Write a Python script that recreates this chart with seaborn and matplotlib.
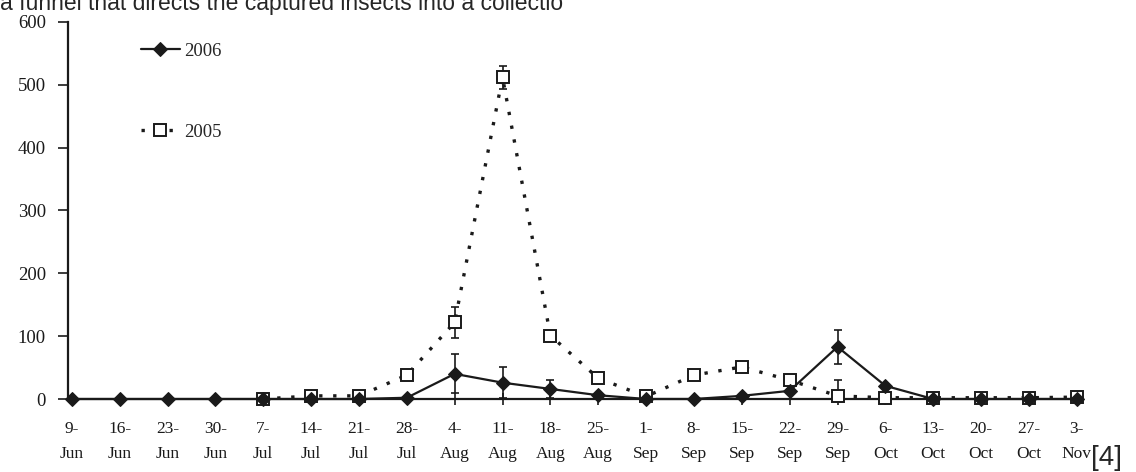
# Trap catches per week, 2005 vs 2006
import numpy as np
import pandas as pd
import matplotlib
matplotlib.use("Agg")
import matplotlib.pyplot as plt
import seaborn as sns

dates = ["9-\nJun", "16-\nJun", "23-\nJun", "30-\nJun", "7-\nJul", "14-\nJul",
         "21-\nJul", "28-\nJul", "4-\nAug", "11-\nAug", "18-\nAug", "25-\nAug",
         "1-\nSep", "8-\nSep", "15-\nSep", "22-\nSep", "29-\nSep", "6-\nOct",
         "13-\nOct", "20-\nOct", "27-\nOct", "3-\nNov"]

catch_2006 = [0, 0, 0, 0, 0, 0, 0, 2, 40, 26, 16, 6, 0, 0, 5, 13, 83, 21, 0, 0, 0, 0]
err_2006 = [0, 0, 0, 0, 0, 0, 0, 0, 31, 25, 14, 2, 0, 0, 2, 3, 27, 0, 0, 0, 0, 0]

catch_2005 = [np.nan, np.nan, np.nan, np.nan, 0, 5, 5, 38, 122, 512, 101, 33,
              4, 38, 51, 30, 5, 2, 2, 2, 2, 3]
err_2005 = [0, 0, 0, 0, 0, 0, 0, 0, 25, 18, 4, 0, 0, 2, 0, 0, 25, 0, 0, 0, 3, 3]

df = pd.DataFrame({"pos": np.arange(len(dates)),
                   "y2006": catch_2006, "y2005": catch_2005})

# error bars never go below zero
lo_2006 = np.minimum(err_2006, df["y2006"].fillna(0))
lo_2005 = np.minimum(err_2005, df["y2005"].fillna(0))

sns.set_style("white")
plt.rcParams["font.family"] = ["Liberation Serif", "DejaVu Serif"]

fig = plt.figure(figsize=(11.36, 4.72), dpi=100)
ax = fig.add_axes([68 / 1136, 1 - 399 / 472, 1015 / 1136, 377 / 472])

ink = "#1a1a1a"

# error bars first so the markers sit on top
ax.errorbar(df["pos"], df["y2006"], yerr=[lo_2006, err_2006], fmt="none",
            ecolor=ink, elinewidth=1.2, capsize=3, capthick=1.2, clip_on=False)
ax.errorbar(df["pos"], df["y2005"], yerr=[lo_2005, err_2005], fmt="none",
            ecolor=ink, elinewidth=1.2, capsize=3, capthick=1.2, clip_on=False)

sns.lineplot(data=df, x="pos", y="y2005", ax=ax, color=ink, linewidth=2.4,
             marker="s", markersize=8, markerfacecolor="white",
             markeredgecolor=ink, markeredgewidth=1.4, label="2005",
             clip_on=False, zorder=3)
ax.lines[-1].set_dashes((1, 3.2))
ax.lines[-1].set_dash_capstyle("butt")

sns.lineplot(data=df, x="pos", y="y2006", ax=ax, color=ink, linewidth=1.6,
             marker="D", markersize=7, markerfacecolor=ink,
             markeredgecolor=ink, label="2006", clip_on=False, zorder=4)

ax.set_xlim(-0.08, 21.13)
ax.set_ylim(0, 600)
ax.set_yticks(range(0, 601, 100))
ax.set_xticks(df["pos"])
ax.set_xticklabels(dates, linespacing=1.75)
ax.set_xlabel("")
ax.set_ylabel("")

for s in ["top", "right"]:
    ax.spines[s].set_visible(False)
for s in ["left", "bottom"]:
    ax.spines[s].set_color(ink)
    ax.spines[s].set_linewidth(1.6)

ax.tick_params(axis="y", direction="out", length=7, width=1.2, pad=9,
               labelsize=13.5, colors=ink, left=True)
ax.tick_params(axis="x", direction="inout", length=8, width=1.2, pad=12,
               labelsize=12.5, colors=ink, bottom=True)

# legend: 2006 on top, 2005 below, widely spaced
h, l = ax.get_legend_handles_labels()
order = [l.index("2006"), l.index("2005")]
leg = ax.legend([h[i] for i in order], [l[i] for i in order],
                loc="upper left", bbox_to_anchor=(0.055, 0.99), frameon=False,
                fontsize=13.5, labelspacing=3.4, handlelength=2.1,
                handletextpad=0.2)

fig.text(0.0, 1 - 10 / 472, "a funnel that directs the captured insects into a collectio",
         family="Liberation Sans", fontsize=16.5, va="baseline", ha="left")
fig.text(1091 / 1136, 1 - 458 / 472, "[4]", family="Liberation Sans",
         fontsize=20, va="center", ha="left")

fig.savefig("out.png", dpi=100)
